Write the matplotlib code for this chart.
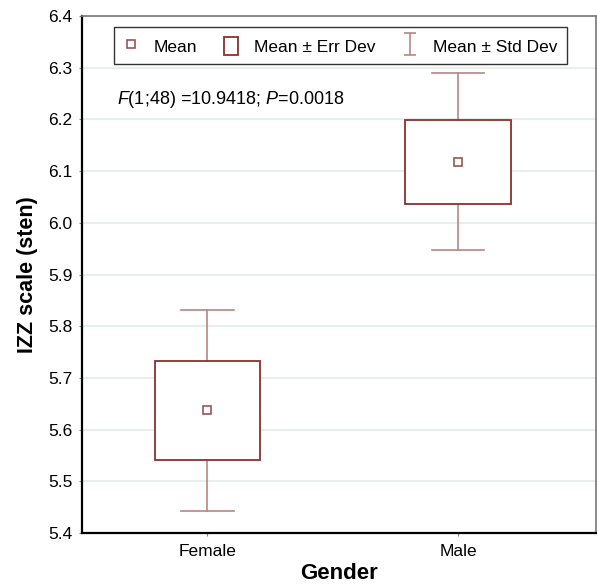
import matplotlib
matplotlib.use('Agg')
import matplotlib.pyplot as plt
from matplotlib.lines import Line2D
from matplotlib.patches import Rectangle, Patch
from matplotlib.path import Path
import numpy as np

plt.rcParams['font.family'] = ['Liberation Sans', 'DejaVu Sans']
plt.rcParams['mathtext.fontset'] = 'custom'
plt.rcParams['mathtext.it'] = 'Liberation Sans:italic'
plt.rcParams['mathtext.rm'] = 'Liberation Sans'

# datos
grupos = ['Female', 'Male']
medias = [5.637, 6.118]
err_dev = [0.095, 0.081]
std_dev = [0.195, 0.171]

col_box = '#8b2f2f'
col_whisk = '#b88585'
col_grid = '#e3ece8'

fig = plt.figure(figsize=(5.97, 5.88), dpi=100)
ax = fig.add_axes([0.1374, 0.0935, 0.8606, 0.8793])

x = np.arange(len(grupos))
ancho_box = 0.42
ancho_cap = 0.21

for xi, m, e, s in zip(x, medias, err_dev, std_dev):
    # whiskers (std dev)
    ax.plot([xi, xi], [m + e, m + s], color=col_whisk, lw=1.2, zorder=2)
    ax.plot([xi, xi], [m - s, m - e], color=col_whisk, lw=1.2, zorder=2)
    ax.plot([xi - ancho_cap / 2, xi + ancho_cap / 2], [m + s, m + s], color=col_whisk, lw=1.2, zorder=2)
    ax.plot([xi - ancho_cap / 2, xi + ancho_cap / 2], [m - s, m - s], color=col_whisk, lw=1.2, zorder=2)
    # caja (err dev)
    ax.add_patch(Rectangle((xi - ancho_box / 2, m - e), ancho_box, 2 * e,
                           facecolor='white', edgecolor=col_box, lw=1.3, zorder=3))
    # media
    ax.plot(xi, m, marker='s', ms=5.5, mfc='white', mec='#9a5555', mew=1.2, zorder=4)

ax.set_xlim(-0.5, 1.55)
ax.set_ylim(5.4, 6.4)
ax.set_yticks(np.arange(5.4, 6.41, 0.1))
ax.set_yticklabels(['{:.1f}'.format(v) for v in np.arange(5.4, 6.41, 0.1)])
ax.set_xticks(x)
ax.set_xticklabels(grupos)
ax.yaxis.grid(True, color=col_grid, lw=1.2)
ax.set_axisbelow(True)
ax.tick_params(axis='both', labelsize=12.5, length=2, color='#888888')
ax.tick_params(axis='x', pad=6)
ax.tick_params(axis='y', right=True, pad=5)

for lado in ['left', 'bottom']:
    ax.spines[lado].set_color('black')
    ax.spines[lado].set_linewidth(1.6)
ax.spines['top'].set_color('#777777')
ax.spines['right'].set_color('#777777')
ax.spines['top'].set_linewidth(1.2)
ax.spines['right'].set_linewidth(1.2)

ax.set_ylabel('IZZ scale (sten)', fontsize=15.5, fontweight='bold', labelpad=7)
ax.set_xlabel('Gender', fontsize=16, fontweight='bold', labelpad=3)

ax.text(0.068, 0.838, r'$F$(1;48) =10.9418; $P$=0.0018', transform=ax.transAxes,
        fontsize=13, va='center', ha='left')

# leyenda
marca_i = Path([(-0.5, 1), (0.5, 1), (0, 1), (0, -1), (-0.5, -1), (0.5, -1)],
               [Path.MOVETO, Path.LINETO, Path.MOVETO, Path.LINETO, Path.MOVETO, Path.LINETO])
h_media = Line2D([], [], ls='none', marker='s', ms=5.5, mfc='white', mec='#9a5555', mew=1.2)
h_err = Patch(facecolor='white', edgecolor=col_box, lw=1.3)
h_std = Line2D([], [], ls='none', marker=marca_i, ms=16, mec=col_whisk, mew=1.2)
leg = ax.legend([h_media, h_err, h_std], ['Mean', 'Mean ± Err Dev', 'Mean ± Std Dev'],
                loc='upper center', bbox_to_anchor=(0.503, 0.978), ncol=3, fontsize=12.5,
                frameon=True, fancybox=False, edgecolor='black', handlelength=0.8,
                handleheight=1.2, handletextpad=0.9, columnspacing=1.6, borderpad=0.55,
                borderaxespad=0)
leg.get_frame().set_linewidth(1.0)

plt.savefig('out.png', dpi=100)
